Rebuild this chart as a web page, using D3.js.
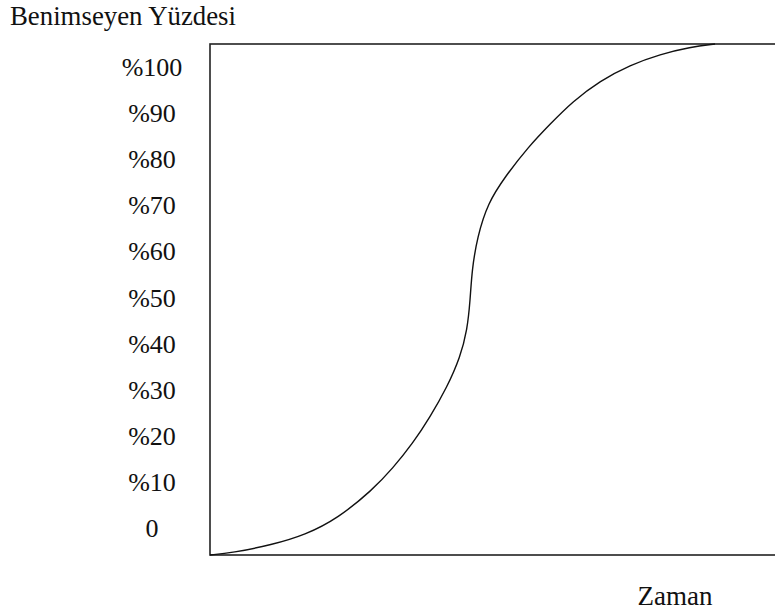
<!DOCTYPE html>
<html>
<head>
<meta charset="utf-8">
<script src="https://cdn.jsdelivr.net/npm/d3@7"></script>
<style>
  body { margin: 0; background: #fff; }
  text { font-family: "Liberation Serif", "Times New Roman", serif; fill: #111; }
</style>
</head>
<body>
<svg id="svg" width="775" height="611"></svg>
<script>
// tick labels on the left, top to bottom
const tickLabels = ["%100", "%90", "%80", "%70", "%60", "%50", "%40", "%30", "%20", "%10", "0"];

// adoption curve (time 0-100, percent 0-100)
const zaman = [0, 3.7, 10.5, 16.1, 21.7, 27.5, 31.0, 34.4, 37.3, 40.2, 42.4, 43.6, 44.1,
               44.4, 45.3, 47.1, 50.0, 53.9, 57.6, 61.5, 66.1, 71.2, 76.3, 81.4, 85.6];
const yuzde = [0, 0.4, 2.0, 3.9, 7.2, 12.7, 17.0, 21.9, 27.0, 32.9, 38.7, 44.0, 49.9,
               55.8, 62.2, 68.9, 74.0, 79.8, 84.3, 88.8, 92.8, 95.9, 98.0, 99.4, 100];

const svg = d3.select("#svg");
const box = { left: 210, top: 44, right: 800, bottom: 555 };

var x = d3.scaleLinear().domain([0, 100]).range([box.left, box.right]);
var y = d3.scaleLinear().domain([0, 100]).range([box.bottom, box.top]);

// labels are spaced on their own, not tied to the frame
var ty = d3.scalePoint().domain(tickLabels).range([76, 537]);

svg.append("text")
    .attr("x", 10)
    .attr("y", 25)
    .style("font-size", "26.8px")
    .text("Benimseyen Yüzdesi");

svg.append("g")
    .selectAll("text")
    .data(tickLabels)
    .join("text")
    .attr("x", 152)
    .attr("y", d => ty(d))
    .attr("text-anchor", "middle")
    .style("font-size", "26px")
    .text(d => d);

// frame
svg.append("rect")
    .attr("x", box.left)
    .attr("y", box.top)
    .attr("width", box.right - box.left)
    .attr("height", box.bottom - box.top)
    .attr("fill", "none")
    .attr("stroke", "#222")
    .attr("stroke-width", 1.6);

// basis smooths out the reading jitter
var line = d3.line()
    .x(d => x(d[0]))
    .y(d => y(d[1]))
    .curve(d3.curveBasis);

svg.append("path")
    .datum(d3.zip(zaman, yuzde))
    .attr("d", line)
    .attr("fill", "none")
    .attr("stroke", "#111")
    .attr("stroke-width", 1.4);

svg.append("text")
    .attr("x", 675)
    .attr("y", 605)
    .attr("text-anchor", "middle")
    .style("font-size", "27px")
    .text("Zaman");
</script>
</body>
</html>
